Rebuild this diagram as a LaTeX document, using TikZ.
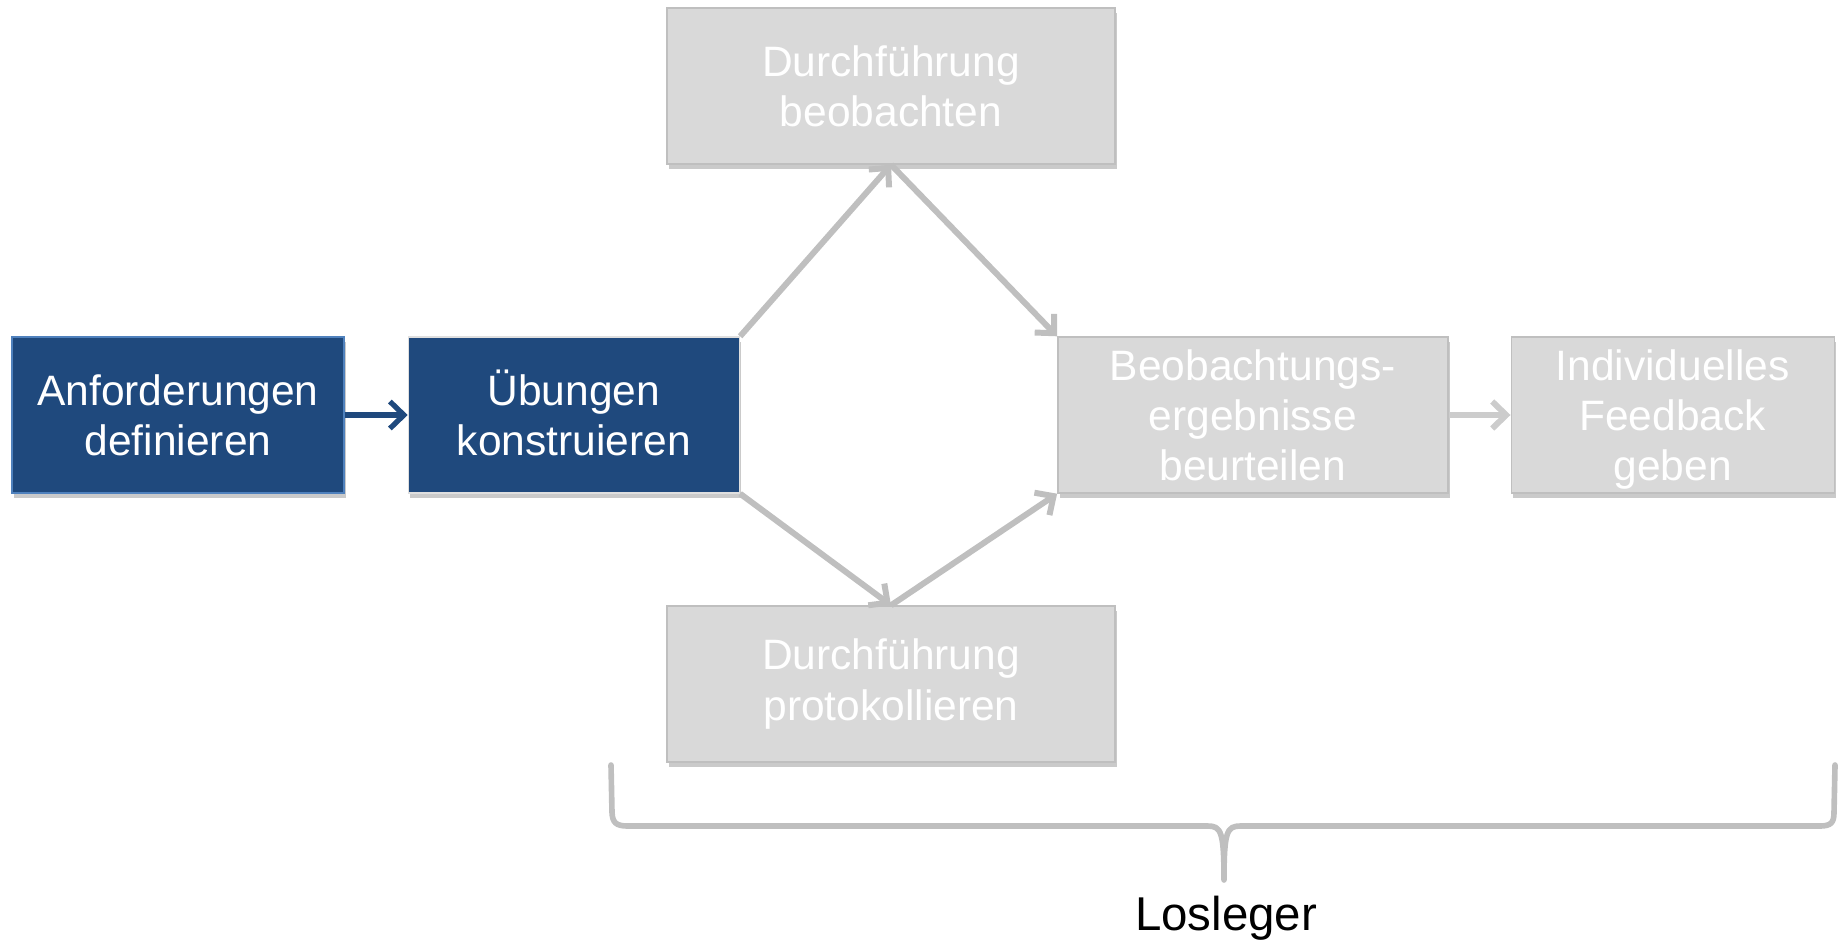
\documentclass[tikz,border=0pt]{standalone}
\usepackage{fontspec}
\setmainfont{Liberation Sans}
\usetikzlibrary{arrows.meta,positioning,shadows}

\definecolor{darkblue}{HTML}{1F497D}
\definecolor{lightblue}{HTML}{4F81BD}
\definecolor{boxgrey}{HTML}{D9D9D9}
\definecolor{linegrey}{HTML}{BFBFBF}

\begin{document}
\begin{tikzpicture}[>={Straight Barb[length=2.8mm,width=5.4mm]},
    box/.style={rectangle,minimum height=3.12cm,align=center,text=white,
        font=\fontsize{24.2}{28.5}\selectfont,inner sep=0pt,
        drop shadow={shadow xshift=0.4mm,shadow yshift=-0.9mm,opacity=0.35,fill=black!60}},
    bluebox/.style={box,fill=darkblue,draw=lightblue,line width=0.8pt},
    greybox/.style={box,fill=boxgrey,draw=linegrey,line width=0.8pt},
    flow/.style={->,draw=linegrey,line width=3.4pt},
    bracel/.style={draw=linegrey,line width=3.2pt,line join=round,line cap=round}]
    \useasboundingbox (0,0) rectangle (36.8,-18.9);

    \node[bluebox,minimum width=6.64cm] (anf) at (3.56,-8.30) {Anforderungen\\definieren};
    \node[bluebox,draw=white!75!gray,minimum width=6.62cm,right=1.26cm of anf] (ueb) {\smash{Ü}bungen\\konstruieren};
    \node[greybox,minimum width=8.96cm] (beob) at (17.82,-1.72) {Durchführung\\beobachten};
    \node[greybox,minimum width=8.96cm] (prot) at (17.82,-13.68) {Durchführung\\protokollieren};
    \node[greybox,minimum width=7.8cm,right=6.34cm of ueb] (beurt) {Beobachtungs-\\ergebnisse\\beurteilen};
    \node[greybox,minimum width=6.46cm,right=1.24cm of beurt] (feedb) {Individuelles\\Feedback\\\smash{geben}};

    \draw [->,draw=darkblue,line width=3pt] (anf) -- (ueb);
    \draw [flow] (ueb.north east) -- (beob.south);
    \draw [flow] (beob.south) -- (beurt.north west);
    \draw [flow] (ueb.south east) -- (prot.north);
    \draw [flow] (prot.north) -- (beurt.south west);
    \draw [flow,draw=boxgrey!85!gray] (beurt) -- (feedb);

    % Klammer unter den grauen Schritten
    \draw [bracel] (12.22,-15.30) -- (12.24,-16.25)
        .. controls (12.25,-16.45) and (12.32,-16.52) .. (12.55,-16.52)
        -- (24.15,-16.52)
        .. controls (24.42,-16.52) and (24.48,-16.62) .. (24.48,-17.60)
        .. controls (24.48,-16.62) and (24.54,-16.52) .. (24.81,-16.52)
        -- (36.40,-16.52)
        .. controls (36.62,-16.52) and (36.68,-16.45) .. (36.68,-16.25)
        -- (36.70,-15.30);
    \node[font=\fontsize{27}{32}\selectfont] (los) at (24.52,-18.36) {Losleger};
\end{tikzpicture}
\end{document}
